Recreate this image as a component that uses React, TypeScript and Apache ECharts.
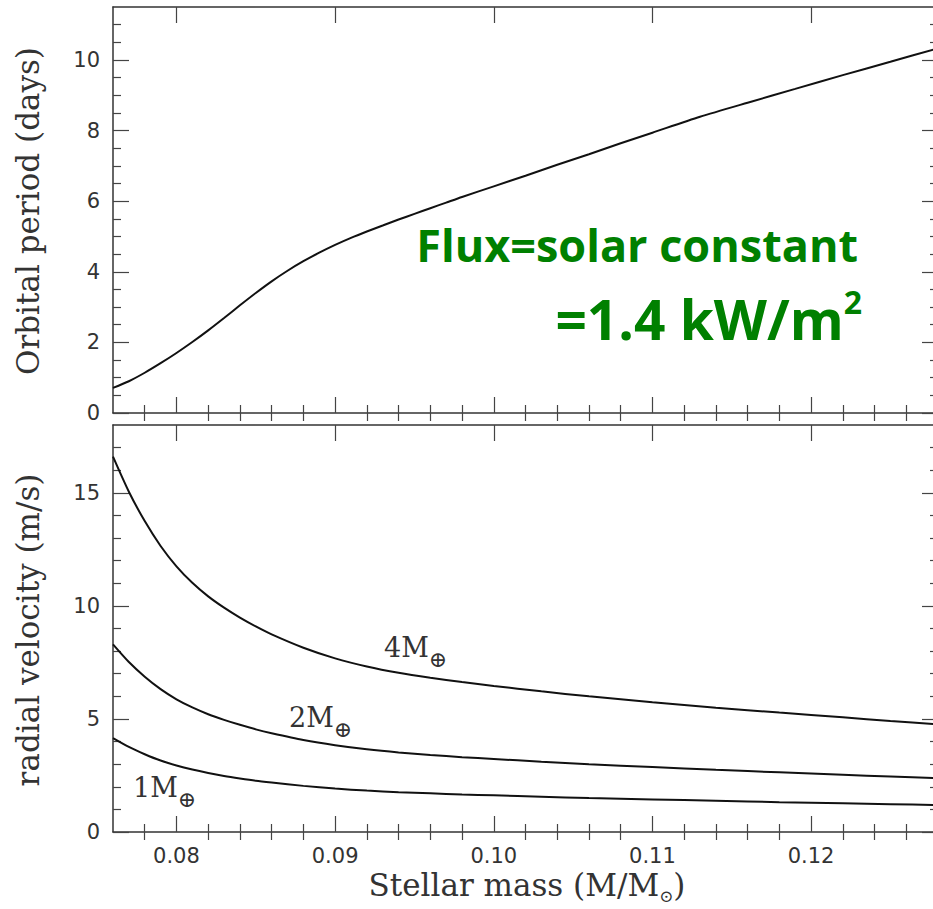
import React, { useEffect, useRef } from "react";
import * as echarts from "echarts";

// ---- data ----
const massP = [0.076, 0.077, 0.078, 0.079, 0.080, 0.081, 0.082, 0.083, 0.084, 0.085, 0.086, 0.087, 0.088, 0.089, 0.090, 0.091, 0.092, 0.093, 0.094, 0.095, 0.096, 0.097, 0.098, 0.100, 0.102, 0.104, 0.106, 0.108, 0.110, 0.113, 0.116, 0.119, 0.122, 0.125, 0.128];
const periodDays = [0.71, 0.90, 1.14, 1.41, 1.70, 2.01, 2.34, 2.69, 3.05, 3.40, 3.73, 4.03, 4.30, 4.54, 4.76, 4.96, 5.14, 5.31, 5.48, 5.64, 5.80, 5.96, 6.12, 6.42, 6.72, 7.03, 7.33, 7.64, 7.94, 8.39, 8.79, 9.18, 9.57, 9.95, 10.33];

const massV = [0.076, 0.077, 0.078, 0.079, 0.080, 0.081, 0.082, 0.083, 0.084, 0.085, 0.086, 0.088, 0.090, 0.092, 0.094, 0.096, 0.098, 0.100, 0.103, 0.106, 0.110, 0.114, 0.118, 0.122, 0.125, 0.128];
const rv4 = [16.6, 15.05, 13.75, 12.65, 11.75, 11.02, 10.42, 9.92, 9.48, 9.09, 8.74, 8.15, 7.68, 7.32, 7.04, 6.82, 6.63, 6.46, 6.22, 6.0, 5.74, 5.5, 5.28, 5.07, 4.91, 4.76];
const rv2 = [8.3, 7.52, 6.87, 6.32, 5.87, 5.51, 5.21, 4.96, 4.74, 4.54, 4.37, 4.07, 3.84, 3.66, 3.52, 3.41, 3.31, 3.23, 3.11, 3.0, 2.87, 2.75, 2.64, 2.53, 2.45, 2.38];
const rv1 = [4.15, 3.76, 3.44, 3.16, 2.94, 2.76, 2.61, 2.48, 2.37, 2.27, 2.19, 2.04, 1.92, 1.83, 1.76, 1.71, 1.66, 1.62, 1.56, 1.5, 1.44, 1.38, 1.32, 1.27, 1.23, 1.19];

// ---- ticks ----
const xMajor = [0.08, 0.09, 0.10, 0.11, 0.12];
const xMinor = [0.078, 0.082, 0.084, 0.086, 0.088, 0.092, 0.094, 0.096, 0.098, 0.102, 0.104, 0.106, 0.108, 0.112, 0.114, 0.116, 0.118, 0.122, 0.124, 0.126];
const pMajor = [0, 2, 4, 6, 8, 10];
const pMinor = [0.5, 1, 1.5, 2.5, 3, 3.5, 4.5, 5, 5.5, 6.5, 7, 7.5, 8.5, 9, 9.5, 10.5, 11];
const vMajor = [0, 5, 10, 15];
const vMinor = [1, 2, 3, 4, 6, 7, 8, 9, 11, 12, 13, 14, 16, 17];

const X_MIN = 0.076;
const X_MAX = 0.128;

const NUM_FONT = "'DejaVu Sans', sans-serif";
const SERIF = "'DejaVu Serif', serif";
const COMIC = "'Comic Sans MS', 'Open Sans', sans-serif";
const INK = "#333";
const GREEN = "#008000";

function xAxes(grid: number, labels: boolean) {
  const base = { type: "value", gridIndex: grid, min: X_MIN, max: X_MAX, splitLine: { show: false } };
  const line = { show: true, onZero: false, lineStyle: { color: INK, width: 1.5 } };
  const tick = (vals: number[], len: number) => ({ show: true, inside: true, length: len, customValues: vals, lineStyle: { color: "#444", width: 1.2 } });
  return [
    { ...base, position: "bottom", axisLine: line, axisTick: tick(xMajor, 16),
      axisLabel: { show: labels, customValues: xMajor, margin: 13, fontSize: 21, fontFamily: NUM_FONT, color: INK, formatter: (v: number) => v.toFixed(2) } },
    { ...base, position: "top", axisLine: line, axisTick: tick(xMajor, 16), axisLabel: { show: false } },
    { ...base, position: "bottom", axisLine: { show: false }, axisTick: tick(xMinor, 8), axisLabel: { show: false } },
    { ...base, position: "top", axisLine: { show: false }, axisTick: tick(xMinor, 8), axisLabel: { show: false } },
  ];
}

function yAxes(grid: number, max: number, major: number[], minor: number[]) {
  const base = { type: "value", gridIndex: grid, min: 0, max, splitLine: { show: false } };
  const line = { show: true, onZero: false, lineStyle: { color: INK, width: 1.5 } };
  const tick = (vals: number[], len: number) => ({ show: true, inside: true, length: len, customValues: vals, lineStyle: { color: "#444", width: 1.2 } });
  return [
    { ...base, position: "left", axisLine: line, axisTick: tick(major, 16),
      axisLabel: { show: true, customValues: major, margin: 13, fontSize: 21, fontFamily: NUM_FONT, color: INK } },
    { ...base, position: "right", axisLine: line, axisTick: tick(major, 16), axisLabel: { show: false } },
    { ...base, position: "left", axisLine: { show: false }, axisTick: tick(minor, 8), axisLabel: { show: false } },
    { ...base, position: "right", axisLine: { show: false }, axisTick: tick(minor, 8), axisLabel: { show: false } },
  ];
}

function zip(xs: number[], ys: number[]) {
  return xs.map((x, i) => [x, ys[i]]);
}

function curve(name: string, data: number[][], xi: number, yi: number) {
  return {
    name, type: "line", xAxisIndex: xi, yAxisIndex: yi, data,
    showSymbol: false, smooth: 0.25,
    lineStyle: { color: "#111", width: 2 }, silent: true,
  };
}

function massLabel(num: string, x: number, y: number) {
  return {
    type: "text", x, y, silent: true,
    style: {
      text: `${num}M{s|⊕}`, fill: INK, fontFamily: SERIF, fontSize: 27,
      rich: { s: { fontSize: 22, fontFamily: SERIF, fill: INK, verticalAlign: "bottom", lineHeight: 46 } },
    },
  };
}

export default function App() {
  const ref = useRef<HTMLDivElement>(null);
  useEffect(() => {
    if (!ref.current) return;
    const chart = echarts.init(ref.current, undefined, { renderer: "svg" });
    chart.setOption({
      animation: false,
      backgroundColor: "#fff",
      grid: [
        { left: 113, top: 7, width: 825, height: 406 },
        { left: 113, top: 425, width: 825, height: 407 },
      ],
      xAxis: [...xAxes(0, false), ...xAxes(1, true)],
      yAxis: [...yAxes(0, 11.5, pMajor, pMinor), ...yAxes(1, 18, vMajor, vMinor)],
      series: [
        curve("Orbital period", zip(massP, periodDays), 0, 0),
        curve("4 Earth masses", zip(massV, rv4), 4, 4),
        curve("2 Earth masses", zip(massV, rv2), 4, 4),
        curve("1 Earth mass", zip(massV, rv1), 4, 4),
      ],
      graphic: [
        { type: "text", x: 28, y: 211, rotation: Math.PI / 2, silent: true,
          style: { text: "Orbital period (days)", fill: INK, fontFamily: SERIF, fontSize: 31, align: "center", verticalAlign: "middle" } },
        { type: "text", x: 28, y: 630, rotation: Math.PI / 2, silent: true,
          style: { text: "radial velocity (m/s)", fill: INK, fontFamily: SERIF, fontSize: 31, align: "center", verticalAlign: "middle" } },
        { type: "text", x: 527, y: 885, silent: true,
          style: { text: "Stellar mass (M/M{s|⊙})", fill: INK, fontFamily: SERIF, fontSize: 31, align: "center", verticalAlign: "middle",
            rich: { s: { fontSize: 17, fontFamily: SERIF, fill: INK, verticalAlign: "bottom", lineHeight: 38 } } } },
        massLabel("4", 384, 624),
        massLabel("2", 289, 694),
        massLabel("1", 133, 764),
        { type: "text", x: 858, y: 244, silent: true,
          style: { text: "Flux=solar constant", fill: GREEN, fontFamily: COMIC, fontWeight: "bold", fontSize: 45, align: "right", verticalAlign: "middle" } },
        { type: "text", x: 862, y: 318, silent: true,
          style: { text: "=1.4 kW/m{p|2}", fill: GREEN, fontFamily: COMIC, fontWeight: "bold", fontSize: 55, align: "right", verticalAlign: "middle",
            rich: { p: { fontSize: 32, fontWeight: "bold", fontFamily: COMIC, fill: GREEN, verticalAlign: "top", lineHeight: 66 } } } },
      ],
    });
    return () => chart.dispose();
  }, []);
  return (
    <div style={{ position: "fixed", left: 0, top: 0, width: 933, height: 909, overflow: "hidden", background: "#fff" }}>
      <div ref={ref} style={{ width: 945, height: 909 }} />
    </div>
  );
}
